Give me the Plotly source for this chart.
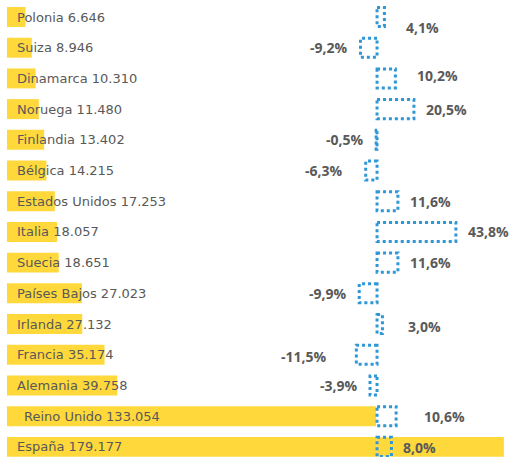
import plotly.graph_objects as go

# Exports per country (value) and year-on-year change (%)
countries = [
    "Polonia", "Suiza", "Dinamarca", "Noruega", "Finlandia", "Bélgica",
    "Estados Unidos", "Italia", "Suecia", "Países Bajos", "Irlanda",
    "Francia", "Alemania", "Reino Unido", "España",
]
values = [
    6646, 8946, 10310, 11480, 13402, 14215, 17253, 18057, 18651,
    27023, 27132, 35174, 39758, 133054, 179177,
]
changes = [
    4.1, -9.2, 10.2, 20.5, -0.5, -6.3, 11.6, 43.8, 11.6,
    -9.9, 3.0, -11.5, -3.9, 10.6, 8.0,
]

YELLOW = "#FFD83C"
BLUE = "#2F97D6"
GREY = "#595959"

# extra pixel nudges (dx, dy) for a few percentage labels
label_nudge = {
    "Polonia": (10, 10),
    "Dinamarca": (10, -3),
    "Bélgica": (11, 0),
    "Irlanda": (14, 2),
    "Francia": (17, 2),
    "Reino Unido": (16, 0),
    "España": (0, 1),
}
name_nudge = {"Reino Unido": 7}


def fmt_thousands(v):
    return f"{v:,}".replace(",", ".")


def fmt_pct(v):
    return f"{v:.1f}%".replace(".", ",")


fig = go.Figure()

fig.add_trace(go.Bar(
    x=values, y=countries, orientation="h",
    marker=dict(color=YELLOW, line=dict(width=0)),
    width=0.65, xaxis="x", yaxis="y",
    hovertemplate="%{y}: %{x}<extra></extra>",
))

# invisible carrier for the percentage axis
fig.add_trace(go.Bar(
    x=changes, y=countries, orientation="h",
    marker=dict(color="rgba(0,0,0,0)"),
    width=0.62, xaxis="x2", yaxis="y",
    hovertemplate="%{y}: %{x}%<extra></extra>",
))

shapes = []
annotations = []
for i, (name, val, chg) in enumerate(zip(countries, values, changes)):
    # dotted outline for the change bar
    shapes.append(dict(
        type="rect", xref="x2", yref="y",
        x0=0, x1=chg, y0=i - 0.31, y1=i + 0.31,
        line=dict(color=BLUE, width=3, dash="dot"),
        fillcolor="rgba(0,0,0,0)", layer="above",
    ))
    dx, dy = label_nudge.get(name, (0, 0))
    pos = chg >= 0
    annotations.append(dict(
        x=chg, y=name, xref="x2", yref="y",
        text=fmt_pct(chg), showarrow=False,
        xanchor="left" if pos else "right", yanchor="middle",
        xshift=(10 + dx) if pos else -(10 + dx), yshift=-dy,
        font=dict(family="Open Sans", size=14, color=GREY, weight="bold"),
    ))
    annotations.append(dict(
        x=0, y=name, xref="x", yref="y",
        text=f"{name} {fmt_thousands(val)}", showarrow=False,
        xanchor="left", yanchor="middle",
        xshift=8 + name_nudge.get(name, 0),
        font=dict(family="DejaVu Sans", size=13, color=GREY),
    ))

fig.update_layout(
    width=511, height=457,
    margin=dict(l=7, r=6, t=0, b=0),
    paper_bgcolor="white", plot_bgcolor="white",
    showlegend=False, barmode="overlay",
    xaxis=dict(range=[0, 179600], visible=False, fixedrange=True),
    xaxis2=dict(range=[-205.6, 71.1], overlaying="x", visible=False,
                fixedrange=True),
    yaxis=dict(categoryorder="array", categoryarray=countries,
               range=[14.33, -0.554], visible=False, fixedrange=True),
    shapes=shapes,
    annotations=annotations,
)

fig.write_html("out.html")
